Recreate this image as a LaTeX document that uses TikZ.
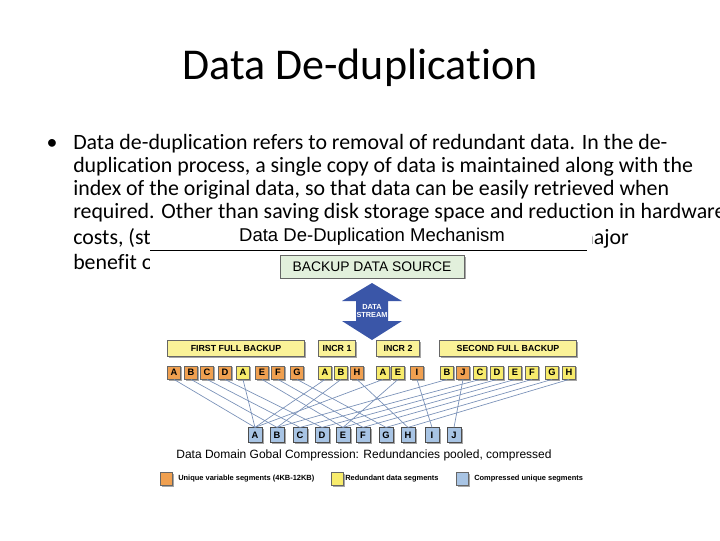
\documentclass[tikz,border=0pt]{standalone}
\usepackage{fontspec}
\setmainfont{Carlito}[Ligatures=NoCommon]
\newfontfamily\arialf{Liberation Sans}
\usetikzlibrary{shadows}
\definecolor{segor}{HTML}{F0A050}
\definecolor{segye}{HTML}{F8EC6C}
\definecolor{segbl}{HTML}{A8C4E4}
\definecolor{lnk}{HTML}{7890B8}
\definecolor{arrb}{HTML}{3A56A8}
\definecolor{srcg}{HTML}{E2F0DC}
\tikzset{
 sh/.style={drop shadow={shadow xshift=1.2pt,shadow yshift=-1.2pt,fill=gray!70,opacity=1}},
 seg/.style={draw=black!60,line width=0.4pt,minimum width=9.5pt,minimum height=10pt,inner sep=0pt,font=\arialf\fontsize{7}{8}\selectfont\bfseries,sh},
 sego/.style={seg,fill=segor},
 segy/.style={seg,fill=segye},
 segb/.style={seg,fill=segbl,draw=black!70,minimum width=10.5pt,minimum height=11pt},
 hdr/.style={draw=black!60,fill=segye!70,minimum height=12pt,inner sep=0pt,font=\arialf\fontsize{6.6}{7}\selectfont\bfseries,sh},
 body/.style={anchor=base west,inner sep=0pt,font=\fontsize{16.4}{19}\selectfont},
 leg/.style={anchor=west,inner sep=0pt,font=\arialf\fontsize{5.6}{6}\selectfont\bfseries},
 lk/.style={draw=lnk,line width=0.5pt}
}
\begin{document}
\begin{tikzpicture}[x=0.75pt,y=-0.75pt]
\useasboundingbox[fill=white] (0,0) rectangle (720,540);
\node[inner sep=0pt,font=\fontsize{33}{36}\selectfont] (title) at (360,68) {Data De-duplication};
\node[anchor=base,inner sep=0pt,font=\fontsize{16.4}{19}\selectfont] (bul) at (52,149) {•};
\node[body] (l1) at (73,149) {Data de-duplication refers to removal of redundant data. In the de-};
\node[body] (l2) at (73,172) {duplication process, a single copy of data is maintained along with the};
\node[body] (l3) at (73,195) {index of the original data, so that data can be easily retrieved when};
\node[body] (l4) at (73,218) {required. Other than saving disk storage space and reduction in hardware};
\node[body] (l5) at (73,244) {costs, (sto};
\node[body,anchor=base east] (l5b) at (629,244) {major};
\node[body] (l6) at (73,269) {benefit of};
% image area
\fill[white] (150,224) rectangle (592,500);
\node[inner sep=0pt,font=\arialf\fontsize{13.9}{15}\selectfont] (mt) at (372,237) {Data De-Duplication Mechanism};
\draw[line width=0.7pt] (150,250) -- (587,250);
\node[draw=black!60,fill=srcg,minimum width=138pt,minimum height=17pt,inner sep=0pt,font=\arialf\fontsize{10.4}{11}\selectfont,sh] (src) at (372,266.5) {BACKUP DATA SOURCE};
\fill[arrb] (372,283) -- (402,301) -- (388,301) -- (388,321) -- (402,321) -- (372,340) -- (342,321) -- (356,321) -- (356,301) -- (342,301) -- cycle;
\node[text=white,align=center,inner sep=0pt,font=\arialf\fontsize{5.5}{6.5}\selectfont\bfseries] (ds) at (372,311) {DATA\\STREAM};
\node[hdr,minimum width=103pt] (h1) at (236,348.5) {FIRST FULL BACKUP};
\node[hdr,minimum width=28pt] (h2) at (337,348.5) {INCR 1};
\node[hdr,minimum width=32pt] (h3) at (398,348.5) {INCR 2};
\node[hdr,minimum width=103pt] (h4) at (508,348.5) {SECOND FULL BACKUP};
% top segments
\foreach \i/\x/\s/\l in {1/174/sego/A,2/191/sego/B,3/207/sego/C,4/225/sego/D,5/243/segy/A,6/262/sego/E,7/278/sego/F,8/297/sego/G,
 9/325/segy/A,10/341/segy/B,11/357/sego/H,12/383/segy/A,13/398/segy/E,14/417/sego/I,
 15/447/segy/B,16/463/sego/J,17/480/segy/C,18/497/segy/D,19/515/segy/E,20/532/segy/F,21/552/segy/G,22/569/segy/H}
 \node[\s] (t\i) at (\x,372.5) {\l};
% bottom
\foreach \x/\l in {255/A,277/B,300/C,322/D,343/E,363/F,386/G,408/H,432/I,454/J}
 \node[segb] (b\l) at (\x,435) {\l};
\foreach \i/\l in {1/A,2/B,3/C,4/D,5/A,6/E,7/F,8/G,9/A,10/B,11/H,12/A,13/E,14/I,15/B,16/J,17/C,18/D,19/E,20/F,21/G,22/H}
 \draw[lk] (t\i.south) -- (b\l.north);
\node[inner sep=0pt,font=\arialf\fontsize{9}{10}\selectfont] (cap) at (364,455) {Data Domain Gobal Compression: Redundancies pooled, compressed};
\node[seg,fill=segor,minimum width=9pt,minimum height=10pt] (k1) at (166,479) {};
\node[leg] (k1t) at (178,479) {Unique variable segments (4KB-12KB)};
\node[seg,fill=segye,minimum width=9pt,minimum height=10pt] (k2) at (337,479) {};
\node[leg] (k2t) at (345,479) {Redundant data segments};
\node[seg,fill=segbl,minimum width=9pt,minimum height=10pt] (k3) at (462,479) {};
\node[leg] (k3t) at (474,479) {Compressed unique segments};
\end{tikzpicture}
\end{document}
